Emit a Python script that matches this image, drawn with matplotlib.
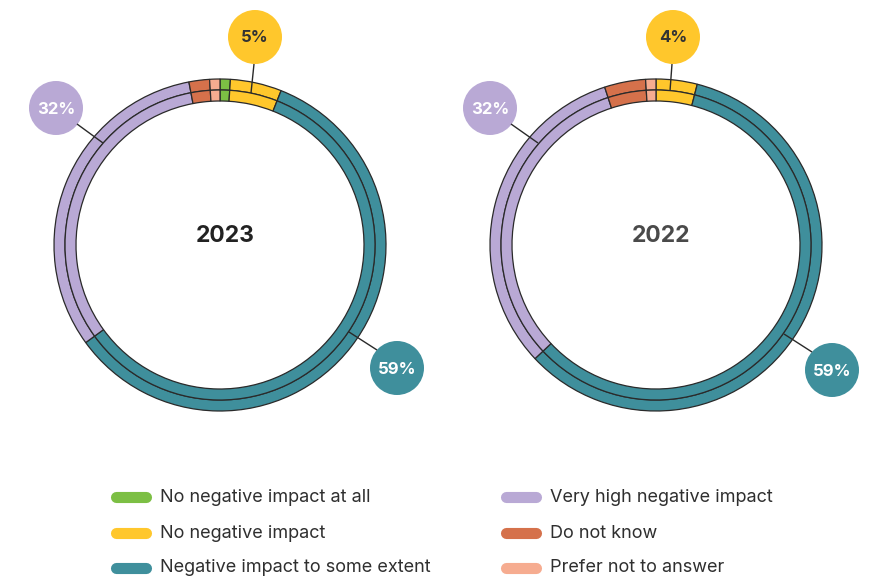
import matplotlib.pyplot as plt
from matplotlib.patches import Circle

plt.rcParams['font.family'] = ['Inter', 'DejaVu Sans']

# data
categories = ['No negative impact at all', 'No negative impact', 'Negative impact to some extent',
              'Very high negative impact', 'Do not know', 'Prefer not to answer']
colors = ['#7cbf44', '#ffc72c', '#3f8f9c', '#b9a9d5', '#d5714b', '#f6ac90']
values_2023 = [1, 5, 59, 32, 2, 1]
values_2022 = [0, 4, 59, 32, 4, 1]
years = ['2023', '2022']

W, H = 874, 579
fig = plt.figure(figsize=(W / 100, H / 100), dpi=100)
fig.patch.set_facecolor('white')

R = 166
half = 180


def donut(cx, cy, vals, year, ycol):
    ax = fig.add_axes([(cx - half) / W, (H - cy - half) / H, 2 * half / W, 2 * half / H])
    wp = dict(edgecolor='#2a2a2a', linewidth=0.9)
    # outer and inner ring show the same split
    ax.pie(vals, colors=colors, radius=R, startangle=90, counterclock=False,
           wedgeprops=dict(width=11, **wp))
    ax.pie(vals, colors=colors, radius=R - 11, startangle=90, counterclock=False,
           wedgeprops=dict(width=11, **wp))
    ax.set_xlim(-half, half)
    ax.set_ylim(-half, half)
    ax.set_aspect('auto')
    ax.axis('off')
    ax.text(5, 9, year, ha='center', va='center', fontsize=16.5, fontweight='bold', color=ycol)


donut(220, 245, values_2023, years[0], '#222222')
donut(656, 245, values_2022, years[1], '#4a4a4a')

ov = fig.add_axes([0, 0, 1, 1])
ov.set_xlim(0, W)
ov.set_ylim(H, 0)
ov.axis('off')

# bubble labels: (cx, cy, text, fill, textcolor, line start, line end)
bubbles = [
    (255, 37, '5%', colors[1], '#333333', (254, 64), (251, 93)),
    (56, 108, '32%', colors[3], 'white', (77, 124), (103, 143)),
    (397, 368, '59%', colors[2], 'white', (377, 350), (349, 332)),
    (673, 37, '4%', colors[1], '#333333', (672, 64), (670, 91)),
    (490, 108, '32%', colors[3], 'white', (511, 124), (538, 143)),
    (832, 370, '59%', colors[2], 'white', (812, 352), (784, 334)),
]
for cx, cy, t, fc, tc, p0, p1 in bubbles:
    ov.plot([p0[0], p1[0]], [p0[1], p1[1]], color='#2a2a2a', lw=1, solid_capstyle='butt')
    ov.add_patch(Circle((cx, cy), 27, facecolor=fc, edgecolor='none'))
    ov.text(cx, cy + 1, t, ha='center', va='center', fontsize=12, fontweight='bold', color=tc)

# legend
leg_x = [112, 502]
leg_y = [497, 533, 568]
for i, (lab, col) in enumerate(zip(categories, colors)):
    x = leg_x[i // 3]
    y = leg_y[i % 3]
    ov.plot([x + 4, x + 34], [y, y], color=col, lw=8, solid_capstyle='round')
    ov.text(x + 48, y, lab, ha='left', va='center', fontsize=13, color='#2f2f2f')

fig.savefig('out.png', dpi=100)
